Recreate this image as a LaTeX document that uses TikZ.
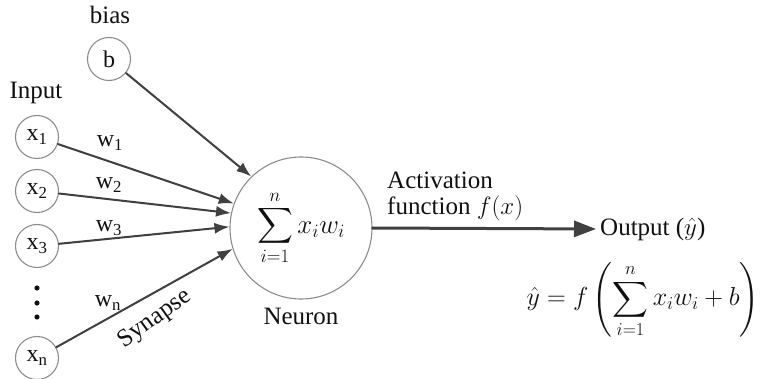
\RequirePackage{fix-cm}
\documentclass[tikz,border=0pt]{standalone}
\usepackage{amsmath}
\usepackage{fontspec}
\setmainfont{Liberation Serif}
\usetikzlibrary{arrows.meta,positioning}
\definecolor{nnRing}{HTML}{8C8C8C}
\definecolor{nnArrow}{HTML}{404040}
\definecolor{nnInk}{HTML}{111111}

\begin{document}
\begin{tikzpicture}[x=1pt,y=-1pt,>=Latex,line cap=round,line join=round]
\useasboundingbox[fill=white] (0,0) rectangle (760,379);
\tikzset{unit/.style={circle,draw=nnRing,line width=1.1pt,fill=white,minimum size=43pt,inner sep=0pt,text=nnInk,font=\fontsize{24}{26}\selectfont},
  lbl/.style={text=nnInk,font=\fontsize{25}{28}\selectfont,inner sep=1pt},
  wlbl/.style={lbl,font=\fontsize{24}{26}\selectfont},
  syn/.style={draw=nnArrow,line width=2pt,-{Latex[length=15pt,width=11pt]}},
  outarrow/.style={draw=nnArrow,line width=3pt,shorten >=4pt,-{Triangle[length=22pt,width=16pt]}}}
% inputs and bias
\node[lbl] (biaslbl) at (110,15) {bias};
\node[unit] (b) at (109,59) {b};
\node[lbl] (inlbl) at (36,93) {Input};
\node[unit] (x1) at (37,137) {x\textsubscript{1}};
\node[unit] (x2) at (37,191) {x\textsubscript{2}};
\node[unit] (x3) at (37,246) {x\textsubscript{3}};
\node[unit] (xn) at (37,358) {x\textsubscript{n}};
\foreach \dy in {288,303,317} \fill[nnInk] (37,\dy) circle (2.6pt);
% neuron
\node[circle,draw=nnRing,line width=1.1pt,minimum size=142pt,inner sep=0pt,text=nnInk,font=\fontsize{27}{30}\selectfont] (neuron) at (301,228) {$\displaystyle\sum_{i=1}^{n} x_i w_i$};
\node[lbl] (neuronlbl) at (301,316) {Neuron};
% synapses
\draw[syn] (b) -- (neuron.134);
\draw[syn] (x1) -- (neuron.160);
\draw[syn] (x2) -- (neuron.168);
\draw[syn] (x3) -- (neuron.179);
\draw[syn] (xn) -- (neuron.197);
\node[wlbl] (w1) at (110,143) {w\textsubscript{1}};
\node[wlbl] (w2) at (109,185) {w\textsubscript{2}};
\node[wlbl] (w3) at (109,228) {w\textsubscript{3}};
\node[wlbl] (wn) at (108,303) {w\textsubscript{n}};
\node[lbl,rotate=36] (synlbl) at (155,319) {Synapse};
% output side
\node[lbl,anchor=west] (act1) at (386,180) {Activation};
\node[lbl,anchor=west] (act2) at (386,208) {function $f(x)$};
\node[lbl,anchor=west,inner sep=0pt] (out) at (600,229) {Output ($\hat{y}$)};
\draw[outarrow] (neuron.east) -- (out.west);
\node[text=nnInk,font=\fontsize{26}{29}\selectfont] (formula) at (643,300) {$\hat{y}=f\left(\displaystyle\sum_{i=1}^{n} x_i w_i + b\right)$};
\end{tikzpicture}
\end{document}
